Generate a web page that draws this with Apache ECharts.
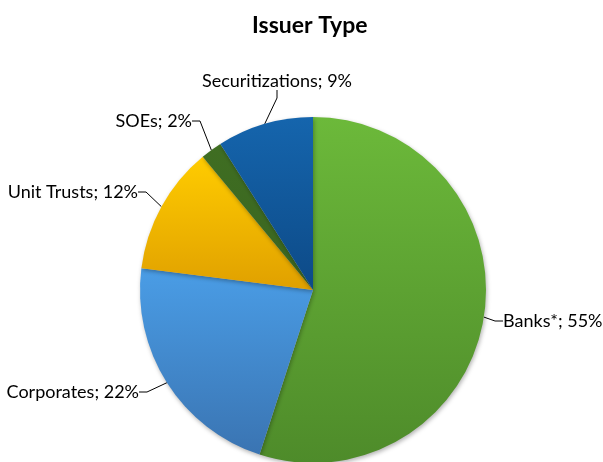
<!DOCTYPE html>
<html>
<head>
<meta charset="utf-8">
<script src="https://cdn.jsdelivr.net/npm/echarts@6/dist/echarts.min.js"></script>
<style>html,body{margin:0;padding:0;background:#fff;}#c{width:603px;height:462px;}</style>
</head>
<body>
<div id="c"></div>
<script>
const categories = ['Banks*', 'Corporates', 'Unit Trusts', 'SOEs', 'Securitizations'];
const values = [55, 22, 12, 2, 9];
const colorTop = ['#6cb93a', '#4a9de6', '#ffcc00', '#3f6e22', '#1565ad'];
const colorBottom = ['#4e8b2a', '#3a74b2', '#e0a000', '#3a6520', '#0d4a87'];
const labelPos = {
  'Banks*': [503, 321, 'left'],
  'Corporates': [139, 392, 'right'],
  'Unit Trusts': [138, 192, 'right'],
  'SOEs': [192, 121, 'right'],
  'Securitizations': [277, 81, 'center']
};

const chart = echarts.init(document.getElementById('c'));
chart.setOption({
  animation: false,
  title: {
    text: 'Issuer Type', left: 247, top: 9,
    textStyle: { fontFamily: 'Lato', fontWeight: 'bold', fontSize: 23, color: '#000' }
  },
  series: [{
    type: 'pie',
    center: [313, 290],
    radius: 173,
    startAngle: 90,
    clockwise: true,
    data: categories.map((n, i) => ({
      name: n, value: values[i],
      itemStyle: {
        color: new echarts.graphic.LinearGradient(0, 0, 0, 1, [
          { offset: 0, color: colorTop[i] }, { offset: 1, color: colorBottom[i] }
        ])
      }
    })),
    itemStyle: { shadowBlur: 4, shadowColor: 'rgba(0,0,0,0.3)', shadowOffsetX: 1, shadowOffsetY: 2 },
    label: {
      show: true, position: 'outside', overflow: 'none', width: 200,
      formatter: p => p.name + '; ' + p.value + '%',
      fontFamily: 'Lato', fontSize: 18, color: '#000'
    },
    labelLine: { show: true, length: 12, length2: 8, lineStyle: { color: '#000', width: 1 } },
    labelLayout: function (p) {
      const lp = labelPos[categories[p.dataIndex]];
      return { x: lp[0], y: lp[1], align: lp[2], verticalAlign: 'middle' };
    }
  }]
});
</script>
</body>
</html>
